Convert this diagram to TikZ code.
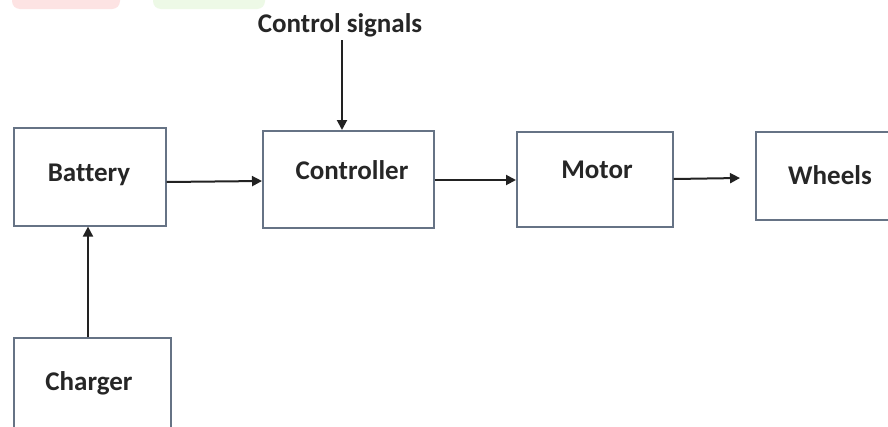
\documentclass[tikz,border=0pt]{standalone}
\usepackage{fontspec}
\setmainfont{Carlito}[RawFeature=-liga]
\usetikzlibrary{arrows.meta}
\definecolor{boxline}{HTML}{667385}
\definecolor{arrowc}{HTML}{222222}
\definecolor{wmred}{HTML}{FDE3E3}
\definecolor{wmgreen}{HTML}{EDF9E6}
\tikzset{
  blk/.style={draw=boxline, line width=1.6pt, fill=white, anchor=north west, inner sep=0pt},
  lbl/.style={font=\bfseries\fontsize{27}{30}\selectfont, text=black!85},
  flow/.style={draw=arrowc, line width=2pt, -{Triangle[length=10pt,width=10pt]}}
}
\begin{document}
\begin{tikzpicture}[x=1pt,y=1pt]
\useasboundingbox (0,0) rectangle (888,-426);
\clip (0,0) rectangle (888,-426);
\fill[white] (0,0) rectangle (888,-426);
% faint watermark blobs
\fill[wmred, rounded corners=8pt] (12,10) rectangle (120,-9);
\fill[wmgreen, rounded corners=8pt] (153,10) rectangle (265,-9);
% boxes
\node[blk, minimum width=152pt, minimum height=98pt] (bat) at (13,-127) {};
\node[lbl] at (89,-175) {Battery};
\node[blk, minimum width=171pt, minimum height=97pt] (ctl) at (262,-130) {};
\node[lbl] at (352,-170) {Controller};
\node[blk, minimum width=156pt, minimum height=95pt] (mot) at (516,-131) {};
\node[lbl] at (597,-170) {Motor};
\node[blk, minimum width=150pt, minimum height=88pt] (whl) at (755,-131) {};
\node[lbl] at (830,-175) {Wheels};
\node[blk, minimum width=157pt, minimum height=110pt] (chg) at (13,-337) {};
\node[lbl] at (89,-383) {Charger};
\node[lbl] (cs) at (340,-25) {Control signals};
% connectors
\coordinate (csb) at (342,-40);
\coordinate (wend) at (740,-178);
\draw[flow] (csb) -- (ctl.north -| csb);
\draw[flow] (bat.east |- 0,-182) -- (ctl.west |- 0,-181);
\draw[flow] (ctl.east |- 0,-180) -- (mot.west |- 0,-180);
\draw[flow] (mot.east |- 0,-179) -- (wend);
\draw[flow] (chg.north -| 88,0) -- (bat.south -| 88,0);
\end{tikzpicture}
\end{document}
